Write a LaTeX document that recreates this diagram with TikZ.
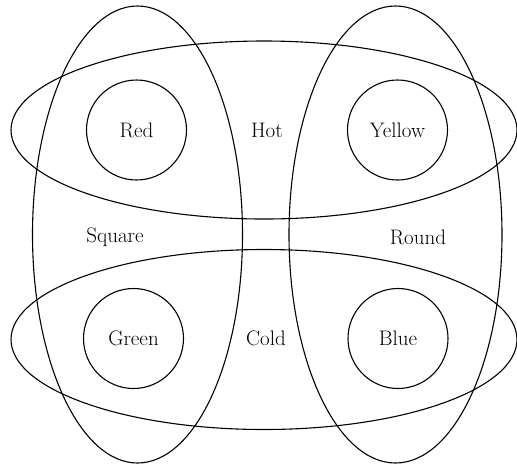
\documentclass[tikz,border=0pt]{standalone}
\usetikzlibrary{shapes.geometric}
\begin{document}
\begin{tikzpicture}[x=1pt,y=-1pt,
  line width=1.1pt,
  ring/.style={draw, ellipse, inner sep=0pt},
  colourdisc/.style={draw, circle, inner sep=0pt, minimum size=100pt, font=\fontsize{21}{25}\selectfont},
  tag/.style={font=\fontsize{21}{25}\selectfont, inner sep=0pt}]
\useasboundingbox (0,0) rectangle (517,467);
% horizontal ellipses
\node[ring, minimum width=506pt, minimum height=178pt] (hotset) at (264,130) {};
\node[ring, minimum width=506pt, minimum height=180pt] (coldset) at (264,339.5) {};
% vertical ovals
\node[ring, minimum width=210pt, minimum height=457pt] (squareset) at (137.5,234.5) {};
\node[ring, minimum width=213pt, minimum height=457pt] (roundset) at (395.5,234.5) {};
% circles
\node[colourdisc] (red) at (136.5,130) {Red};
\node[colourdisc] (yellow) at (397.5,130) {Yellow};
\node[colourdisc] (green) at (133.5,338.5) {Green};
\node[colourdisc] (blue) at (398,338.5) {Blue};
% labels
\node[tag] (hot) at (267,130) {Hot};
\node[tag] (cold) at (266,338) {Cold};
\node[tag] (square) at (115,237) {Square};
\node[tag] (round) at (418,237) {Round};
\end{tikzpicture}
\end{document}
